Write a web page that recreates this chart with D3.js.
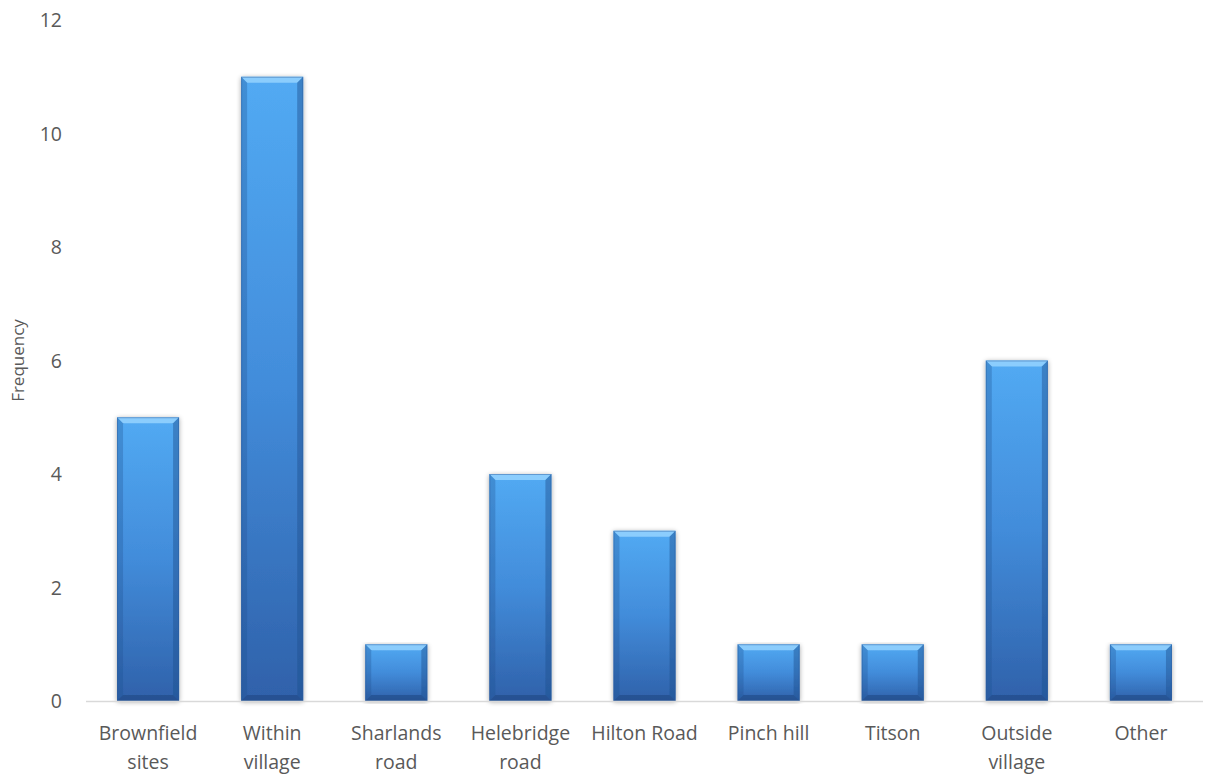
<!DOCTYPE html>
<html><head><meta charset="utf-8">
<script src="https://cdn.jsdelivr.net/npm/d3@7"></script>
<style>body{margin:0;background:#fff}svg{display:block}</style>
</head><body>
<svg id="c" width="1205" height="777"></svg>
<script>
const categories = [["Brownfield","sites"],["Within","village"],["Sharlands","road"],["Helebridge","road"],["Hilton Road"],["Pinch hill"],["Titson"],["Outside","village"],["Other"]];
const values = [5, 11, 1, 4, 3, 1, 1, 6, 1];
const yTicks = [0, 2, 4, 6, 8, 10, 12];
const yTitle = "Frequency";

const svg = d3.select("#c");
const W = 1205, H = 777;
const m = {left: 86, right: 2, top: 20, bottom: 76};
const x = d3.scaleBand().domain(d3.range(categories.length)).range([m.left, W - m.right]).paddingInner(0.5).paddingOuter(0.25);
const y = d3.scaleLinear().domain([0, 12]).range([H - m.bottom, m.top]);
const font = "'Open Sans', 'Noto Sans', sans-serif";

const defs = svg.append("defs");
const g1 = defs.append("linearGradient").attr("id", "bg").attr("x1", 0).attr("y1", 0).attr("x2", 0).attr("y2", 1);
g1.append("stop").attr("offset", "0%").attr("stop-color", "#52aaf3");
g1.append("stop").attr("offset", "50%").attr("stop-color", "#428cda");
g1.append("stop").attr("offset", "100%").attr("stop-color", "#2f61aa");
const f = defs.append("filter").attr("id", "sh").attr("x", "-20%").attr("y", "-5%").attr("width", "140%").attr("height", "110%");
f.append("feGaussianBlur").attr("in", "SourceAlpha").attr("stdDeviation", 2.5).attr("result", "b");
f.append("feOffset").attr("in", "b").attr("dx", 0).attr("dy", 1).attr("result", "o");
f.append("feComponentTransfer").attr("in", "o").attr("result", "o2").append("feFuncA").attr("type", "linear").attr("slope", 0.35);
const mg = f.append("feMerge"); mg.append("feMergeNode").attr("in", "o2"); mg.append("feMergeNode").attr("in", "SourceGraphic");

// y tick labels
svg.append("g").selectAll("text").data(yTicks).join("text")
  .attr("x", 62).attr("y", d => y(d)).attr("dy", "0.36em").attr("text-anchor", "end")
  .attr("font-family", font).attr("font-size", 19.5).attr("fill", "#595959").text(d => d);

svg.append("text").attr("transform", `translate(24,${y(6)}) rotate(-90)`).attr("text-anchor", "middle")
  .attr("font-family", font).attr("font-size", 17).attr("fill", "#595959").text(yTitle);

// bars
const bars = svg.append("g").selectAll("g").data(values).join("g").attr("filter", "url(#sh)");
const bv = 6;
bars.each(function(v, i) {
  const gg = d3.select(this);
  const x0 = x(i), w = x.bandwidth(), y0 = y(v), y1 = y(0), h = y1 - y0;
  gg.append("rect").attr("x", x0).attr("y", y0).attr("width", w).attr("height", h).attr("fill", "url(#bg)");
  const b = Math.min(bv, h / 2);
  gg.append("path").attr("d", `M${x0},${y0}L${x0+w},${y0}L${x0+w-b},${y0+b}L${x0+b},${y0+b}Z`).attr("fill", "#9ad6ff").attr("opacity", 0.8);
  gg.append("path").attr("d", `M${x0},${y0}L${x0+b},${y0+b}L${x0+b},${y1-b}L${x0},${y1}Z`).attr("fill", "#1f4f8f").attr("opacity", 0.3);
  gg.append("path").attr("d", `M${x0+w},${y0}L${x0+w-b},${y0+b}L${x0+w-b},${y1-b}L${x0+w},${y1}Z`).attr("fill", "#1f4f8f").attr("opacity", 0.45);
  gg.append("path").attr("d", `M${x0},${y1}L${x0+b},${y1-b}L${x0+w-b},${y1-b}L${x0+w},${y1}Z`).attr("fill", "#1a3f75").attr("opacity", 0.45);
  gg.append("rect").attr("x", x0+0.5).attr("y", y0+0.5).attr("width", w-1).attr("height", h-1).attr("fill", "none").attr("stroke", "#2d5c9c").attr("stroke-opacity", 0.45);
});

// baseline
svg.append("line").attr("x1", m.left).attr("x2", W - m.right).attr("y1", y(0) + 0.5).attr("y2", y(0) + 0.5)
  .attr("stroke", "#d9d9d9").attr("stroke-width", 1.5);

// x labels
svg.append("g").selectAll("text").data(categories).join("text")
  .attr("x", (d, i) => x(i) + x.bandwidth() / 2).attr("y", y(0) + 39)
  .attr("text-anchor", "middle").attr("font-family", font).attr("font-size", 19.5).attr("fill", "#595959")
  .each(function(d) {
    const t = d3.select(this);
    d.forEach((line, k) => t.append("tspan").attr("x", t.attr("x")).attr("dy", k === 0 ? 0 : 29).text(line));
  });
</script>
</body></html>
